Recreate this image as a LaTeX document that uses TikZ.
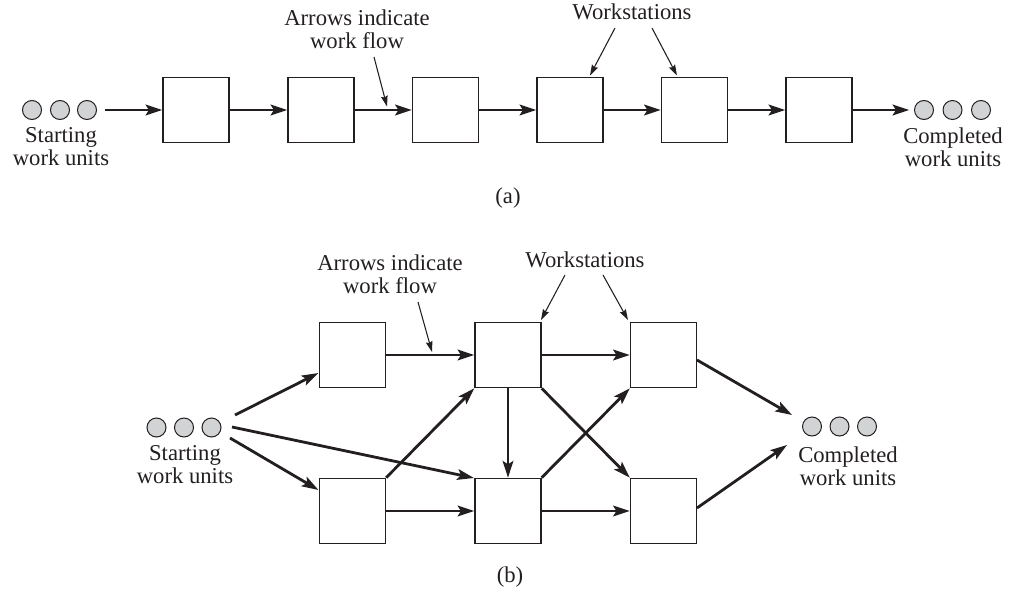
\documentclass[tikz,border=0pt]{standalone}
\usepackage{fontspec}
\setmainfont{Liberation Serif}
\usetikzlibrary{arrows.meta}
\definecolor{ink}{RGB}{35,31,32}
\definecolor{unitgray}{RGB}{209,211,212}
\tikzset{
  station/.style={draw=ink, line width=1pt, minimum width=49.5pt, minimum height=49pt, inner sep=0pt},
  unit/.style={circle, draw=ink, fill=unitgray, line width=0.75pt, minimum size=14.25pt, inner sep=0pt},
  flow/.style={draw=ink, line width=2.1pt, -{Stealth[length=12.5pt,width=8pt,inset=2.5pt]}},
  pointer/.style={draw=ink, line width=0.8pt, -{Stealth[length=8pt,width=5pt,inset=1pt]}},
  lbl/.style={text=ink, font=\fontsize{17}{17.3}\selectfont, align=center, inner sep=0pt}
}
\begin{document}
\begin{tikzpicture}[x=0.75pt,y=-0.75pt]
\useasboundingbox (0,0) rectangle (1017,592);
% ---------- (a) ----------
\node[unit] (sa1) at (32,110) {};
\node[unit] (sa2) at (60,110) {};
\node[unit] (sa3) at (87,110) {};
\node[lbl] (sla) at (61,146.8) {Starting\\work units};
\foreach \i/\x in {1/196,2/321,3/445.5,4/570,5/694.5,6/819}
  \node[station] (a\i) at (\x,110) {};
\node[unit] (ca1) at (924,110) {};
\node[unit] (ca2) at (952.5,110) {};
\node[unit] (ca3) at (981,110) {};
\node[lbl] (cla) at (953,146.8) {Completed\\work units};
\draw[flow] ([xshift=6pt]sa3.east) -- (a1);
\draw[flow] (a1) -- (a2);
\draw[flow] (a2) -- (a3);
\draw[flow] (a3) -- (a4);
\draw[flow] (a4) -- (a5);
\draw[flow] (a5) -- (a6);
\draw[flow] (a6) -- ([xshift=-3.5pt]ca1.west);
\node[lbl] (awa) at (357,29) {Arrows indicate\\work flow};
\coordinate (awa-s) at (374,57);
\coordinate (awa-e) at (387,106.5);
\draw[pointer] (awa-s) -- (awa-e);
\node[lbl, anchor=base] (wsa) at (632,20) {Workstations};
\coordinate (wsa-s1) at (615,28);
\coordinate (wsa-s2) at (652,28);
\coordinate (wsa-e1) at (590,75.5);
\coordinate (wsa-e2) at (677,75.5);
\draw[pointer] (wsa-s1) -- (wsa-e1);
\draw[pointer] (wsa-s2) -- (wsa-e2);
\node[lbl, anchor=base] (capa) at (508,203) {(a)};
% ---------- (b) ----------
\node[unit] (sb1) at (156.5,427.5) {};
\node[unit] (sb2) at (184,427.5) {};
\node[unit] (sb3) at (211.5,427.5) {};
\node[lbl] (slb) at (185,465) {Starting\\work units};
\node[station] (t1) at (352.5,355) {};
\node[station] (t2) at (508,355) {};
\node[station] (t3) at (663.5,355) {};
\node[station] (b1) at (352.5,511) {};
\node[station] (b2) at (508,511) {};
\node[station] (b3) at (663.5,511) {};
\node[unit] (cb1) at (812,426.5) {};
\node[unit] (cb2) at (839.5,426.5) {};
\node[unit] (cb3) at (867,426.5) {};
\node[lbl] (clb) at (848,466) {Completed\\work units};
\coordinate (s-up) at (235,415);
\coordinate (s-mid) at (232,427);
\coordinate (s-dn) at (230,438);
\coordinate (t1-in) at (318.5,373);
\coordinate (b2-in) at (474,478);
\coordinate (b1-in) at (318.5,490);
\draw[flow] (s-up) -- (t1-in);
\draw[flow] (s-mid) -- (b2-in);
\draw[flow] (s-dn) -- (b1-in);
\draw[flow] (t1) -- (t2);
\draw[flow] (t2) -- (t3);
\draw[flow] (b1) -- (b2);
\draw[flow] (b2) -- (b3);
\draw[flow] (t2) -- (b2);
\draw[flow] (b1.north east) -- (t2.south west);
\draw[flow] (t2.south east) -- (b3.north west);
\draw[flow] (b2.north east) -- (t3.south west);
\coordinate (t3-out) at (697,360);
\coordinate (b3-out) at (697,508);
\coordinate (cb-in1) at (792,415);
\coordinate (cb-in2) at (787,445);
\draw[flow] (t3-out) -- (cb-in1);
\draw[flow] (b3-out) -- (cb-in2);
\node[lbl] (awb) at (390,274) {Arrows indicate\\work flow};
\coordinate (awb-s) at (418,302);
\coordinate (awb-e) at (432,352);
\draw[pointer] (awb-s) -- (awb-e);
\node[lbl, anchor=base] (wsb) at (585,267) {Workstations};
\coordinate (wsb-s1) at (565,275);
\coordinate (wsb-s2) at (603,275);
\coordinate (wsb-e1) at (541,320);
\coordinate (wsb-e2) at (628,320);
\draw[pointer] (wsb-s1) -- (wsb-e1);
\draw[pointer] (wsb-s2) -- (wsb-e2);
\node[lbl, anchor=base] (capb) at (510,582) {(b)};
\end{tikzpicture}
\end{document}
